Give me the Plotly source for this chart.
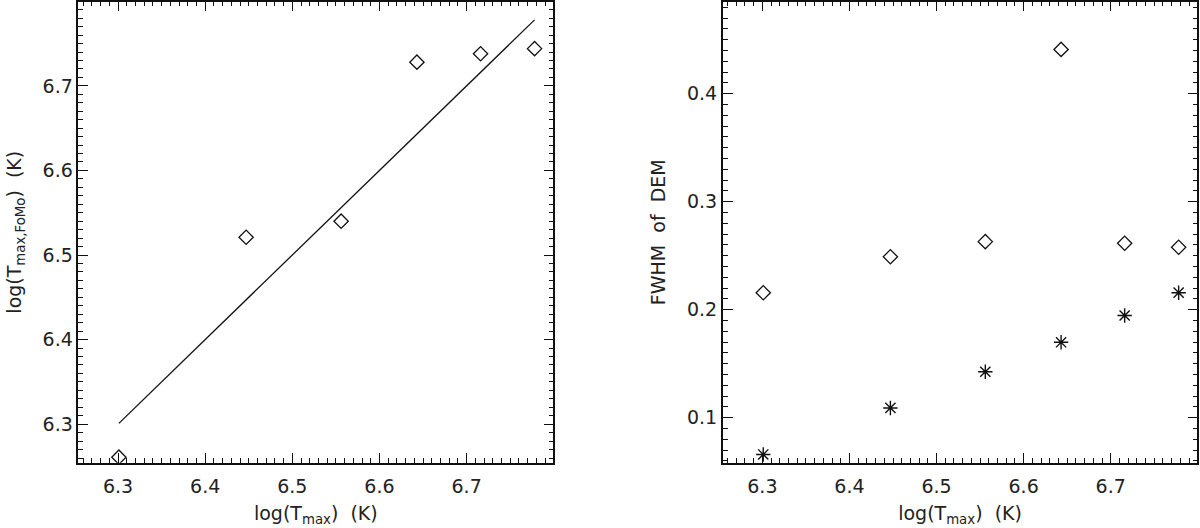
import plotly.graph_objects as go

# data
t_max = [6.301, 6.447, 6.556, 6.643, 6.716, 6.778]
t_fomo = [6.261, 6.521, 6.540, 6.728, 6.738, 6.744]
fwhm_diamond = [0.2157, 0.2490, 0.2630, 0.4410, 0.2615, 0.2578]
fwhm_star = [0.0659, 0.1090, 0.1425, 0.1698, 0.1946, 0.2157]
line_x = [6.301, 6.778]
line_y = [6.301, 6.778]

x_range = [6.2545, 6.7995]
y_range_left = [6.2545, 6.7995]
y_range_right = [0.0583, 0.4852]

FONT = "DejaVu Sans"
INK = "#111111"

fig = go.Figure()
fig.add_trace(go.Scatter(x=line_x, y=line_y, mode="lines",
                         line=dict(color=INK, width=1.3), xaxis="x", yaxis="y",
                         showlegend=False, hoverinfo="skip"))
fig.add_trace(go.Scatter(x=t_max, y=t_fomo, mode="markers",
                         marker=dict(symbol="diamond-open", size=11, color=INK,
                                     line=dict(width=1.3, color=INK)),
                         xaxis="x", yaxis="y", showlegend=False))
fig.add_trace(go.Scatter(x=t_max, y=fwhm_diamond, mode="markers",
                         marker=dict(symbol="diamond-open", size=11, color=INK,
                                     line=dict(width=1.3, color=INK)),
                         xaxis="x2", yaxis="y2", showlegend=False))
fig.add_trace(go.Scatter(x=t_max, y=fwhm_star, mode="markers",
                         marker=dict(symbol="asterisk-open", size=12, color=INK,
                                     line=dict(width=1.4, color=INK)),
                         xaxis="x2", yaxis="y2", showlegend=False))

def axis(rng, domain, anchor, title, standoff, labelpad):
    return dict(
        range=rng, domain=domain, anchor=anchor, automargin=False,
        showgrid=False, zeroline=False,
        showline=True, linecolor=INK, linewidth=1.5, mirror="allticks",
        ticks="inside", ticklen=10, tickwidth=1.2, tickcolor=INK,
        dtick=0.1, tick0=0, tickformat=".1f", ticklabelstandoff=labelpad,
        minor=dict(ticks="inside", ticklen=5, tickwidth=1, tickcolor=INK,
                   dtick=0.01, tick0=0, showgrid=False),
        tickfont=dict(family=FONT, size=19, color="#222222"),
        title=dict(text=title, font=dict(family=FONT, size=19, color="#222222"),
                   standoff=standoff),
    )

sp = "\u00a0\u00a0"
fig.update_layout(
    width=1200, height=528,
    margin=dict(l=0, r=0, t=0, b=0, autoexpand=False),
    paper_bgcolor="white", plot_bgcolor="white",
    xaxis=axis(x_range, [0.0653, 0.4611], "y",
               "log(T<sub>max</sub>)" + sp + "(K)", 10, 6),
    yaxis=axis(y_range_left, [0.1237, 0.9968], "x",
               "log(T<sub>max,FoMo</sub>)" + sp + "(K)", 16, 0),
    xaxis2=axis(x_range, [0.6023, 0.9978], "y2",
                "log(T<sub>max</sub>)" + sp + "(K)", 10, 6),
    yaxis2=axis(y_range_right, [0.1237, 0.9968], "x2",
                "FWHM" + sp + "of" + sp + "DEM", 16, 0),
)

fig.write_html("out.html", post_script="document.body.style.margin='0';",
               config={"displayModeBar": False})
